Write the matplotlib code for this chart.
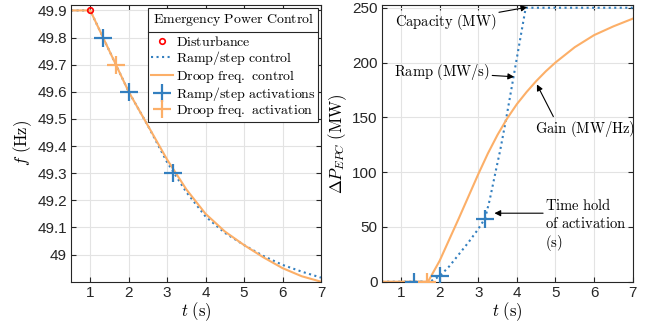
import numpy as np
import matplotlib
matplotlib.use('Agg')
import matplotlib.pyplot as plt

plt.rcParams['mathtext.fontset'] = 'cm'
plt.rcParams['font.family'] = ['Liberation Sans', 'DejaVu Sans']

azul = '#337FBF'
laranja = '#FCAF68'

# ---- Frequencia (painel esquerdo)
t_f = [0.5, 1.0, 1.5, 2.0, 2.5, 3.0, 3.5, 4.0, 4.5, 5.0, 5.5, 6.0, 6.5, 7.0]
f_rampa = [49.9, 49.9, 49.75, 49.6, 49.475, 49.34, 49.23, 49.14, 49.08, 49.035, 48.995, 48.962, 48.937, 48.915]
f_droop = [49.9, 49.9, 49.75, 49.6, 49.475, 49.35, 49.24, 49.15, 49.085, 49.035, 48.99, 48.95, 48.92, 48.90]

t_dist, f_dist = [1.0], [49.9]
t_ativ_rampa = [1.33, 2.0, 3.15]
f_ativ_rampa = [49.8, 49.6, 49.3]
t_ativ_droop = [1.67]
f_ativ_droop = [49.7]

# ---- Potencia EPC (painel direito)
t_p_rampa = [0.5, 1.75, 2.0, 2.25, 2.5, 2.75, 3.0, 3.18, 3.3, 3.46, 3.57, 3.73, 3.98, 4.23, 7.0]
p_rampa = [0, 0, 5, 14, 25, 36, 48, 58, 75, 102, 120, 150, 200, 250, 250]
t_p_droop = [0.5, 1.7, 2.0, 2.5, 3.0, 3.25, 3.5, 3.75, 4.0, 4.25, 4.5, 4.75, 5.0, 5.5, 6.0, 6.5, 7.0]
p_droop = [0, 0, 19, 58, 98, 117, 134, 149, 162, 173, 183, 192, 200, 214, 225, 233, 240]

t_ativ_rampa_p = [1.33, 2.0, 3.18]
p_ativ_rampa = [0, 5, 57]
p_ativ_droop = [0]

def rm(s):
    return r'$\mathrm{' + s.replace(' ', r'\ ') + '}$'

fig = plt.figure(figsize=(6.54, 3.29), dpi=100)
ax1 = fig.add_axes([0.1086, 0.1438, 0.3822, 0.841])
ax2 = fig.add_axes([0.5836, 0.1438, 0.3838, 0.841])

for ax in (ax1, ax2):
    ax.grid(True, color='#e3e3e3', lw=0.8)
    ax.set_axisbelow(True)
    ax.tick_params(direction='in', top=True, right=True, labelsize=11,
                   colors='#262626', length=3.5, width=0.8, pad=3)
    for s in ax.spines.values():
        s.set_color('#262626')
        s.set_linewidth(0.8)
    ax.set_xlim(0.5, 7)
    ax.set_xticks(range(1, 8))
    ax.set_xlabel(r'$t\ \mathrm{(s)}$', fontsize=12, labelpad=0)

# esquerda
ax1.plot(t_f, f_rampa, ':', color=azul, lw=1.5, label=rm('Ramp/step control'))
ax1.plot(t_f, f_droop, '-', color=laranja, lw=1.5, label=rm('Droop freq. control'))
ax1.plot(t_dist, f_dist, 'o', color='red', mfc='none', ms=4, mew=1.2,
         label=rm('Disturbance'), zorder=5)
ax1.plot(t_ativ_rampa, f_ativ_rampa, '+', color=azul, ms=13, mew=1.6,
         ls='none', label=rm('Ramp/step activations'))
ax1.plot(t_ativ_droop, f_ativ_droop, '+', color=laranja, ms=13, mew=1.6,
         ls='none', label=rm('Droop freq. activation'))
ax1.set_ylim(48.9, 49.92)
ax1.set_yticks([49, 49.1, 49.2, 49.3, 49.4, 49.5, 49.6, 49.7, 49.8, 49.9])
ax1.set_yticklabels(['49', '49.1', '49.2', '49.3', '49.4', '49.5', '49.6', '49.7', '49.8', '49.9'])
ax1.set_ylabel(r'$f\ \mathrm{(Hz)}$', fontsize=12, labelpad=2)

h, l = ax1.get_legend_handles_labels()
ordem = [2, 0, 1, 3, 4]
leg = ax1.legend([h[i] for i in ordem], [l[i] for i in ordem],
                 title=rm('Emergency Power Control'), title_fontsize=10,
                 loc='upper left', bbox_to_anchor=(0.308, 0.988),
                 fontsize=10, fancybox=False, edgecolor='#262626',
                 framealpha=1, borderpad=0.2, labelspacing=0.02,
                 handlelength=1.6, handletextpad=0.2, borderaxespad=0)
leg.get_frame().set_linewidth(0.8)
leg._legend_box.sep = 5  # espaco entre titulo e itens

# direita
ax2.plot(t_p_rampa, p_rampa, ':', color=azul, lw=1.5)
ax2.plot(t_p_droop, p_droop, '-', color=laranja, lw=1.5)
ax2.plot(t_ativ_rampa_p, p_ativ_rampa, '+', color=azul, ms=13, mew=1.6, ls='none', zorder=5)
ax2.plot(t_ativ_droop, p_ativ_droop, '+', color=laranja, ms=13, mew=1.6, ls='none', zorder=5)
ax2.set_ylim(0, 252.5)
ax2.set_yticks([0, 50, 100, 150, 200, 250])
ax2.set_ylabel(r'$\Delta P_{EPC}\ \mathrm{(MW)}$', fontsize=12, labelpad=2)

seta = dict(arrowstyle='-|>', color='k', lw=0.8, mutation_scale=9, shrinkA=0, shrinkB=0)
ax2.annotate(rm('Capacity (MW)'), xy=(4.27, 250.5), xytext=(2.15, 237),
             ha='center', va='center', fontsize=10.5, arrowprops=seta)
ax2.annotate(rm('Ramp (MW/s)'), xy=(3.93, 187), xytext=(2.05, 191),
             ha='center', va='center', fontsize=10.5, arrowprops=seta)
ax2.annotate(rm('Gain (MW/Hz)'), xy=(4.52, 180), xytext=(5.76, 139),
             ha='center', va='center', fontsize=10.5,
             arrowprops=dict(seta, relpos=(0.2, 1.0)))
ax2.annotate('', xy=(3.42, 62.5), xytext=(4.68, 62.5), arrowprops=seta)
ax2.text(4.72, 70, rm('Time hold'), fontsize=10.5, va='center', ha='left')
ax2.text(4.72, 53.5, rm('of activation'), fontsize=10.5, va='center', ha='left')
ax2.text(4.72, 35.5, rm('(s)'), fontsize=10.5, va='center', ha='left')

# linha separando o titulo da legenda
fig.canvas.draw()
r = fig.canvas.get_renderer()
bb_leg = leg.get_frame().get_window_extent(r)
bb_tit = leg.get_title().get_window_extent(r)
bb_item = leg.get_texts()[0].get_window_extent(r)
ylin = 0.5 * (bb_tit.y0 + bb_item.y1) / fig.bbox.height
fig.add_artist(plt.Line2D([bb_leg.x0 / fig.bbox.width, bb_leg.x1 / fig.bbox.width],
                          [ylin, ylin], color='#262626', lw=0.8))

fig.savefig('out.png', dpi=100)
